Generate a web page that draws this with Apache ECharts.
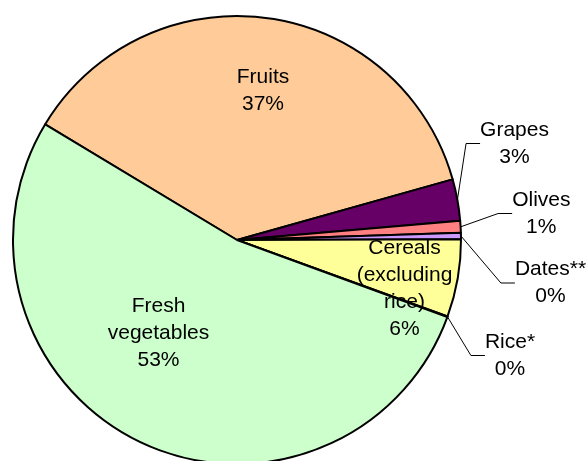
<!DOCTYPE html>
<html>
<head>
<meta charset="utf-8">
<script src="https://cdn.jsdelivr.net/npm/echarts@6/dist/echarts.min.js"></script>
<style>
html,body{margin:0;padding:0;background:#fff;}
#chart{width:586px;height:461px;}
</style>
</head>
<body>
<div id="chart"></div>
<script>
// Data
var categories = ['Fruits', 'Grapes', 'Olives', 'Dates**', 'Cereals (excluding rice)', 'Rice*', 'Fresh vegetables'];
var values = [37.0, 3.0, 0.85, 0.45, 5.6, 0.05, 53.05];
var colors = ['#FFCC99', '#660066', '#FF8080', '#CC99FF', '#FFFF99', '#99CCFF', '#CCFFCC'];
var insideLabel = [true, false, false, false, true, false, true];

// Layout (label centres as offsets from the pie centre, px)
var CX = 237, CY = 240, R = 224;
var labelOffsets = [[26, -149], [277.5, -96.5], [304.3, -26.5], [313.5, 43], [167.5, 49], [273, 115.5], [-78.5, 93]];

var data = categories.map(function (c, i) {
  var item = { name: c, value: values[i], itemStyle: { color: colors[i] } };
  if (insideLabel[i]) {
    item.label = { position: 'inside' };
    item.labelLine = { show: false };
  } else {
    item.label = { position: 'outside' };
    item.labelLine = { show: true };
  }
  return item;
});

var chart = echarts.init(document.getElementById('chart'), null, { renderer: 'canvas' });
chart.setOption({
  backgroundColor: '#ffffff',
  animation: false,
  series: [{
    type: 'pie',
    center: [CX, CY],
    radius: [0, R],
    startAngle: 148.9,
    clockwise: true,
    avoidLabelOverlap: false,
    percentPrecision: 2,
    itemStyle: { borderColor: '#000', borderWidth: 2 },
    emphasis: { disabled: true },
    label: {
      show: true,
      color: '#000',
      fontFamily: 'Liberation Sans, Arial, sans-serif',
      fontSize: 21,
      lineHeight: 27,
      align: 'center',
      formatter: function (p) {
        return p.name.split(' ').join('\n') + '\n' + Math.round(p.percent) + '%';
      }
    },
    labelLine: {
      show: true,
      length: 10,
      length2: 14,
      lineStyle: { color: '#000', width: 1 }
    },
    labelLayout: function (p) {
      var o = labelOffsets[p.dataIndex];
      return { x: CX + o[0], y: CY + o[1], align: 'center', verticalAlign: 'middle' };
    },
    data: data
  }]
});
</script>
</body>
</html>
